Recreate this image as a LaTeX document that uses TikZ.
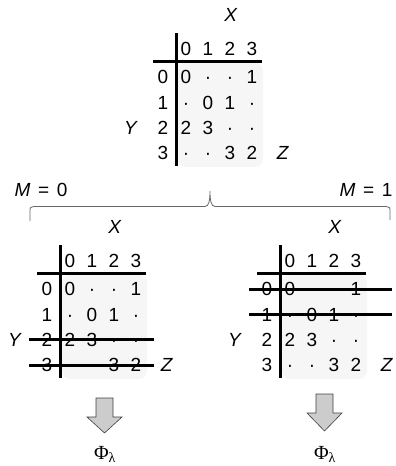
\documentclass[tikz,border=0pt]{standalone}
\usepackage{fontspec}
\setmainfont{Liberation Sans}
\newfontfamily\phifont{Liberation Serif}
\definecolor{tabbg}{gray}{0.965}
\definecolor{arrowfill}{gray}{0.8}
\newcommand\drawtab[3]{%
  \fill[tabbg, rounded corners=8pt] (#2+2,#3+14) rectangle (#2+87,#3+118);
  \node[lab] (#1-x) at (#2+55,#3-34) {\textit{X}};
  \node[lab] (#1-y) at (#2-45,#3+78.5) {\textit{Y}};
  \node[lab] (#1-z) at (#2+107,#3+104) {\textit{Z}};
  \foreach \cx [count=\i from 0] in {10,32,54,76}
    \node[lab] (#1-h\i) at (#2+\cx,#3) {\i};
  \foreach \dy/\ea/\eb/\ec/\ed [count=\r from 0] in
     {28/0/·/·/1, 53.5/·/0/1/·, 78.5/2/3/·/·, 104/·/·/3/2} {
    \node[lab] (#1-r\r) at (#2-13,#3+\dy) {\r};
    \node[lab] (#1-e\r-0) at (#2+10,#3+\dy) {\ea};
    \node[lab] (#1-e\r-1) at (#2+32,#3+\dy) {\eb};
    \node[lab] (#1-e\r-2) at (#2+54,#3+\dy) {\ec};
    \node[lab] (#1-e\r-3) at (#2+76,#3+\dy) {\ed};
  }
  \draw[tabline] (#2,#3-16) -- (#2,#3+117);
  \draw[tabline] (#2-23,#3+12) -- (#2+86,#3+12);
}
\begin{document}
\begin{tikzpicture}[x=1pt,y=-1pt,
  lab/.style={font=\fontsize{19}{22}\selectfont, inner sep=0pt, anchor=center,
              text height=13.6pt, text depth=0pt},
  tabline/.style={line width=3pt, black},
  bracestyle/.style={line width=0.8pt, black!60},
  bigarrow/.style={draw=black!75, line width=0.6pt, fill=arrowfill, line join=miter},
  philab/.style={font=\phifont\fontsize{20}{22}\selectfont, inner sep=0pt, anchor=base}]
\useasboundingbox (0,0) rectangle (396,466);

% top table
\drawtab{T}{176}{49}

% brace
\draw[bracestyle] (30,221) -- (30,211) .. controls (30,207.5) .. (34,206.5)
  -- (205,206.5) .. controls (209,206.5) and (210,200) .. (210,191)
  .. controls (210,200) and (211,206.5) .. (215,206.5)
  -- (386,206.5) .. controls (390,207.5) .. (390,211) -- (390,220);
\node[lab] (m0) at (41,190) {\textit{M}\hspace{0.4em}=\hspace{0.4em}0};
\node[lab] (m1) at (366,190) {\textit{M}\hspace{0.4em}=\hspace{0.4em}1};

% bottom tables
\drawtab{L}{60}{261}
\drawtab{R}{280}{261}

% strike-through lines
\draw[tabline] (29,339.5) -- (154,339.5);
\draw[tabline] (29,365) -- (154,365);
\draw[tabline] (249,289) -- (392,289);
\draw[tabline] (249,314.5) -- (392,314.5);

% arrows
\draw[bigarrow] (96,398) -- (113,398) -- (113,417) -- (122,417) -- (104.5,433)
  -- (87,417) -- (96,417) -- cycle;
\draw[bigarrow] (316,394) -- (333,394) -- (333,413) -- (342,413) -- (324.5,431)
  -- (307,413) -- (316,413) -- cycle;
\node[philab] (p0) at (105,459.5) {Φ\textsubscript{λ}};
\node[philab] (p1) at (325,459.5) {Φ\textsubscript{λ}};
\end{tikzpicture}
\end{document}
